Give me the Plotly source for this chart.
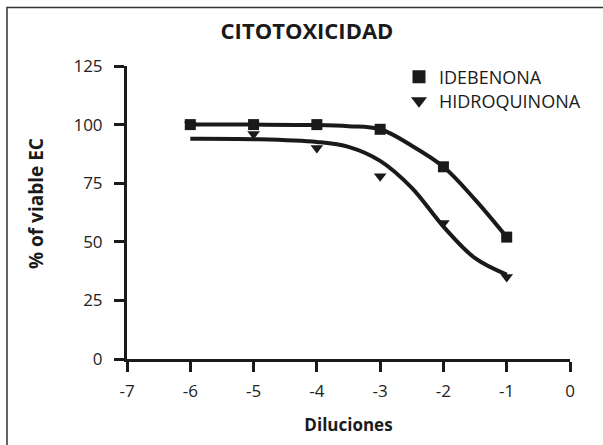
import plotly.graph_objects as go

# Data points
diluciones = [-6, -5, -4, -3, -2, -1]
idebenona = [100, 100, 100, 98, 82, 52]
hidroquinona = [100, 96, 90, 78, 58, 35]

# Fitted curves
curve_x = [-6, -5, -4, -3.5, -3, -2.5, -2, -1.5, -1]
curve_idebenona = [100, 100, 99.8, 99.3, 98, 91, 82, 68, 52]
curve_hidroquinona = [94, 93.8, 92.6, 90.5, 84.5, 73, 56.5, 43, 36]

x_ticks = [-7, -6, -5, -4, -3, -2, -1, 0]
x_tick_labels = ["-7", "-6", "-5", "-4", "-3", "-2", "-1", "0"]
y_ticks = [0, 25, 50, 75, 100, 125]

INK = "#1a1a1a"
FONT = "Open Sans"

fig = go.Figure()

fig.add_trace(go.Scatter(x=curve_x, y=curve_idebenona, mode="lines",
                         line=dict(color=INK, width=4, shape="spline", smoothing=1.0),
                         showlegend=False, hoverinfo="skip"))
fig.add_trace(go.Scatter(x=curve_x, y=curve_hidroquinona, mode="lines",
                         line=dict(color=INK, width=4, shape="spline", smoothing=1.0),
                         showlegend=False, hoverinfo="skip"))

fig.add_trace(go.Scatter(x=diluciones, y=hidroquinona, mode="markers",
                         marker=dict(symbol="triangle-down", size=11, color=INK),
                         showlegend=False))
fig.add_trace(go.Scatter(x=diluciones, y=idebenona, mode="markers",
                         marker=dict(symbol="square", size=11, color=INK),
                         showlegend=False))

# legend entries
fig.add_trace(go.Scatter(x=[None], y=[None], mode="markers", name="IDEBENONA",
                         marker=dict(symbol="square", size=13, color=INK),
                         legend="legend"))
fig.add_trace(go.Scatter(x=[None], y=[None], mode="markers", name="HIDROQUINONA",
                         marker=dict(symbol="triangle-down", size=14, color=INK),
                         legend="legend2"))

axis_common = dict(
    showline=True, linecolor=INK, linewidth=3,
    ticks="outside", ticklen=10, tickwidth=3, tickcolor=INK,
    showgrid=False, zeroline=False,
    tickfont=dict(family=FONT, size=17, color="#222"),
)

fig.update_xaxes(range=[-7, 0], tickvals=x_ticks, ticktext=x_tick_labels,
                 ticklabelstandoff=5,
                 title=dict(text="<b>Diluciones</b>", standoff=18,
                            font=dict(family=FONT, size=17, color=INK)),
                 **axis_common)
fig.update_yaxes(range=[0, 125], tickvals=y_ticks, ticklabelstandoff=8,
                 **axis_common)

legend_common = dict(xanchor="left", yanchor="middle",
                     font=dict(family=FONT, size=18, color=INK),
                     bgcolor="rgba(0,0,0,0)")

fig.update_layout(
    width=603, height=445,
    margin=dict(l=127, r=33, t=66, b=86),
    paper_bgcolor="white", plot_bgcolor="white",
    title=dict(text="<b>CITOTOXICIDAD</b>", x=(307 / 603), xanchor="center",
               y=1 - 31 / 445, yanchor="middle",
               font=dict(family=FONT, size=22, color=INK)),
    legend=dict(x=0.614, y=(359 - 77) / 293, **legend_common),
    legend2=dict(x=0.614, y=(359 - 101) / 293, **legend_common),
    annotations=[dict(text="<b>% of viable EC</b>", xref="paper", yref="paper",
                      x=(36 - 127) / 443, y=(359 - 204) / 293,
                      xanchor="center", yanchor="middle", textangle=-90,
                      showarrow=False,
                      font=dict(family=FONT, size=19, color=INK))],
    shapes=[dict(type="rect", xref="paper", yref="paper",
                 x0=(7 - 127) / 443, x1=(640 - 127) / 443,
                 y0=(359 - 480) / 293, y1=(359 - 7.5) / 293,
                 line=dict(color="#333", width=1.5), layer="below")],
)

fig.write_html("out.html", config={"displayModeBar": False},
               post_script="document.body.style.margin='0';document.body.style.overflow='hidden';")
